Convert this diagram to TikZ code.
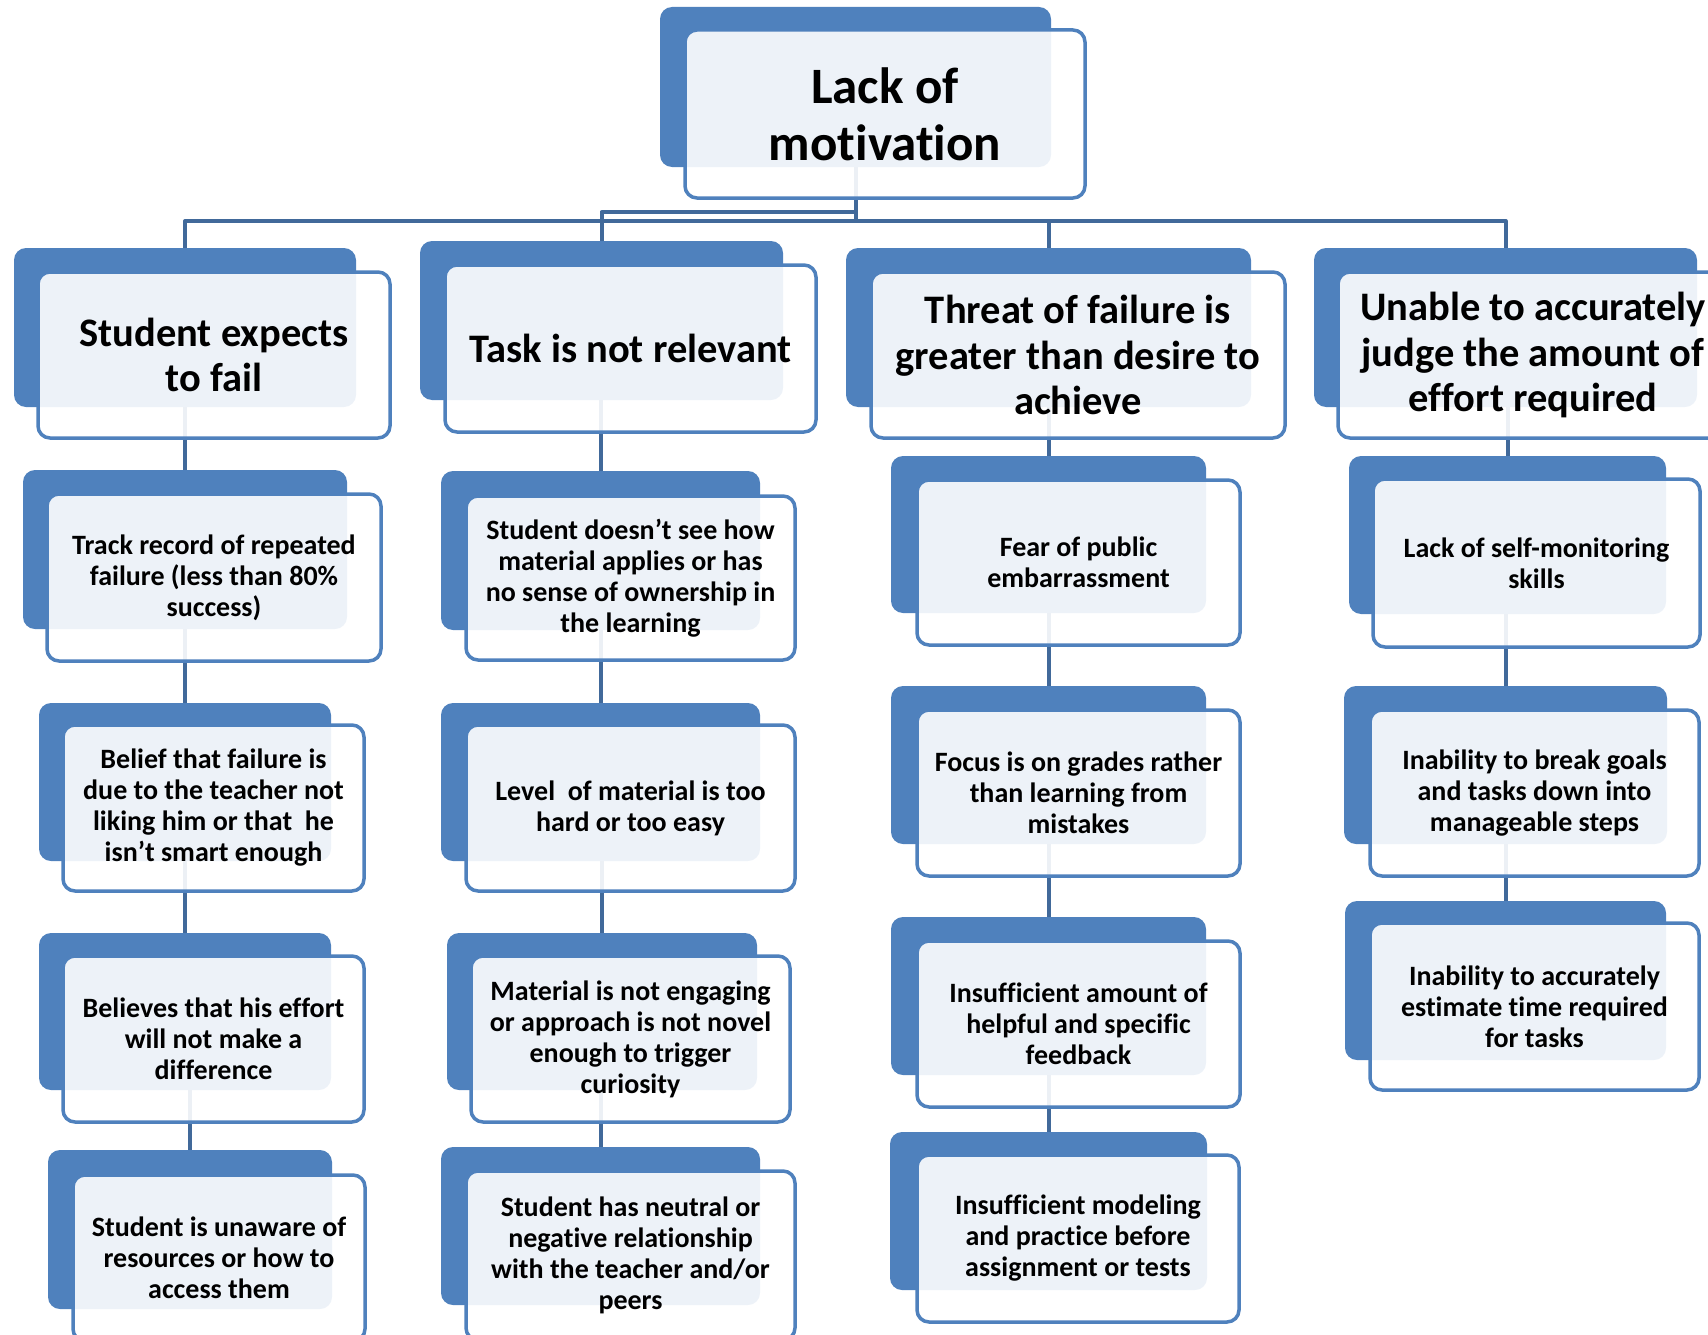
\documentclass[tikz,border=0pt]{standalone}
\usepackage{fontspec}
\setmainfont{Carlito}[Ligatures=NoCommon]
\usetikzlibrary{backgrounds}
\definecolor{accent}{HTML}{4F81BD}
\definecolor{connc}{HTML}{41699A}
\newcommand\fntS{\fontsize{28}{31}\selectfont\bfseries}
\newcommand\fntM{\fontsize{40.5}{45.5}\selectfont\bfseries}
\newcommand\fntL{\fontsize{51}{57}\selectfont\bfseries}
\tikzset{
  backbox/.style={fill=accent, draw=none, rounded corners=12pt, inner sep=0pt, outer sep=0pt},
  frontbox/.style={draw=accent, line width=3.5pt, fill=white, fill opacity=0.9, text opacity=1,
    rounded corners=12pt, inner sep=0pt, outer sep=0pt, align=center, font=\fntS, text=black},
  conn/.style={draw=connc, line width=4pt, line join=round},
}
\newcommand\bk[5]{\node[backbox,anchor=north west,minimum width={#4pt-#2pt},minimum height={#5pt-#3pt}] (#1) at (#2,#3) {};}
\newcommand\fr[7]{\node[frontbox,#6,anchor=north west,minimum width={#4pt-#2pt},minimum height={#5pt-#3pt}] (#1) at (#2,#3) {#7};}
\begin{document}
\begin{tikzpicture}[x=1pt,y=-1pt]
\useasboundingbox (0,0) rectangle (1708,1335);
\clip (0,0) rectangle (1708,1335);
\coordinate (busL) at (0,221);
\coordinate (busU) at (0,212);
% top
\bk{b0}{660}{7}{1051}{167}
\fr{f0}{685}{30}{1085}{198}{font=\fntL}{Lack of\\motivation}
% level 1
\bk{b11}{14}{248}{356}{407}
\fr{f11}{38}{272}{390}{438}{font=\fntM}{Student expects\\to fail}
\bk{b21}{420}{241}{783}{400}
\fr{f21}{445}{265}{816}{432}{font=\fntM}{Task is not relevant}
\bk{b31}{846}{248}{1251}{407}
\fr{f31}{871}{272}{1285}{438}{font=\fntM}{Threat of failure is\\greater than desire to\\achieve}
\bk{b41}{1314}{248}{1697}{407}
\fr{f41}{1338}{272}{1728}{438}{font=\fntM}{Unable to accurately\\judge the amount of\\effort required}
% column 1
\bk{b12}{23}{470}{347}{629}
\fr{f12}{47}{494}{381}{661}{}{Track record of repeated\\failure (less than 80\%\\success)}
\bk{b13}{39}{703}{331}{861}
\fr{f13}{63}{725}{364}{891}{}{Belief that failure is\\due to the teacher not\\liking him or that~ he\\isn’t smart enough}
\bk{b14}{39}{933}{331}{1090}
\fr{f14}{63}{956}{364}{1122}{}{Believes that his effort\\will not make a\\difference}
\bk{b15}{48}{1150}{332}{1309}
\fr{f15}{73}{1175}{365}{1341}{}{Student is unaware of\\resources or how to\\access them}
% column 2
\bk{b22}{441}{471}{760}{630}
\fr{f22}{466}{496}{795}{660}{}{Student doesn’t see how\\material applies or has\\no sense of ownership in\\the learning}
\bk{b23}{441}{703}{760}{861}
\fr{f23}{466}{725}{795}{891}{}{Level~ of material is too\\hard or too easy}
\bk{b24}{447}{933}{757}{1090}
\fr{f24}{471}{956}{790}{1122}{}{Material is not engaging\\or approach is not novel\\enough to trigger\\curiosity}
\bk{b25}{441}{1147}{760}{1305}
\fr{f25}{466}{1171}{795}{1340}{}{Student has neutral or\\negative relationship\\with the teacher and/or\\peers}
% column 3
\bk{b32}{891}{456}{1206}{613}
\fr{f32}{917}{480}{1240}{645}{}{Fear of public\\embarrassment}
\bk{b33}{891}{686}{1206}{844}
\fr{f33}{917}{710}{1240}{876}{}{Focus is on grades rather\\than learning from\\mistakes}
\bk{b34}{891}{917}{1206}{1075}
\fr{f34}{917}{941}{1240}{1107}{}{Insufficient amount of\\helpful and specific\\feedback}
\bk{b35}{890}{1132}{1207}{1290}
\fr{f35}{917}{1155}{1239}{1322}{}{Insufficient modeling\\and practice before\\assignment or tests}
% column 4
\bk{b42}{1349}{456}{1666}{614}
\fr{f42}{1373}{479}{1700}{647}{}{Lack of self-monitoring\\skills}
\bk{b43}{1344}{686}{1667}{844}
\fr{f43}{1370}{710}{1699}{876}{}{Inability to break goals\\and tasks down into\\manageable steps}
\bk{b44}{1345}{901}{1666}{1060}
\fr{f44}{1370}{923}{1699}{1090}{}{Inability to accurately\\estimate time required\\for tasks}
% connectors
\begin{scope}[on background layer]
\draw[conn] (b0.south) -- (b0.south |- busL);
\draw[conn] (b11.north) -- (b11.north |- busL) -- (b41.north |- busL) -- (b41.north);
\draw[conn] (b31.north |- busL) -- (b31.north);
\draw[conn] (b0.south |- busU) -- (b21.north |- busU) -- (b21.north);
\foreach \p/\c in {b11/b12,b12/b13,b13/b14,b14/b15,b21/b22,b22/b23,b23/b24,b24/b25,b31/b32,b32/b33,b33/b34,b34/b35,b41/b42,b42/b43,b43/b44}
  \draw[conn] (\c.north |- \p.south) -- (\c.north);
\end{scope}
\end{tikzpicture}
\end{document}
